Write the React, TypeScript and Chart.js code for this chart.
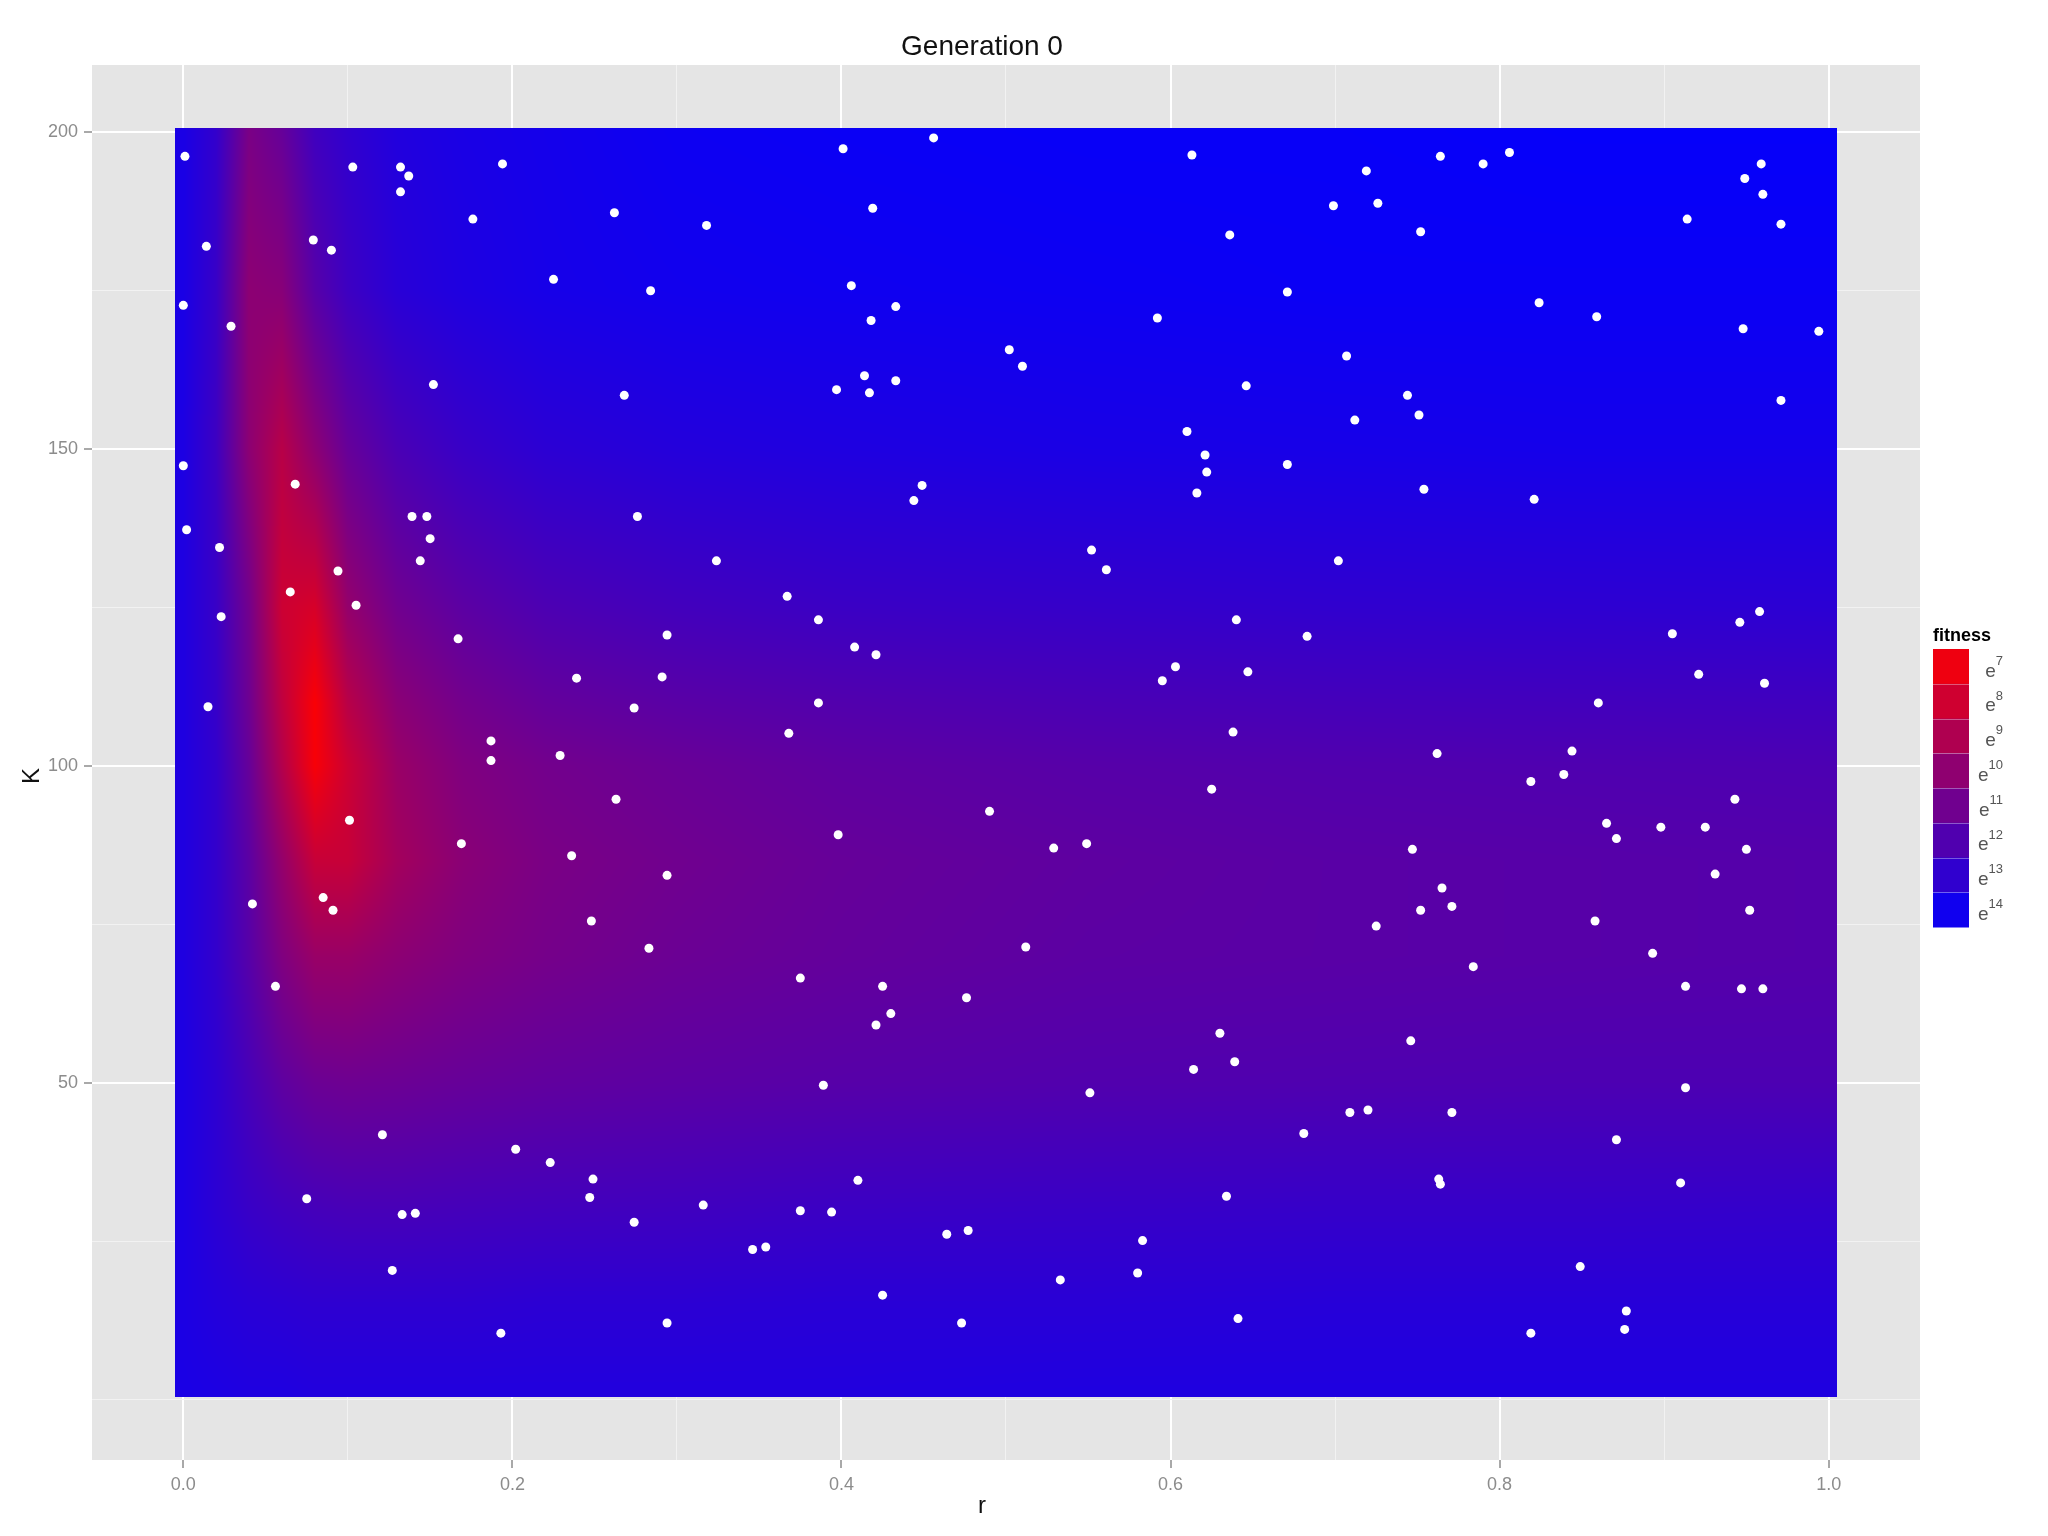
import React, { useEffect, useRef } from "react";
import { Chart, registerables } from "chart.js";

Chart.register(...registerables);

// ---------------- text ----------------
const chartTitle = "Generation 0";
const xTitle = "r";
const yTitle = "K";
const legendTitle = "fitness";
const legendBase = "e";

// ---------------- axes ----------------
const xLimits = [-0.0555, 1.0555];
const yLimits = [-9.5, 210.5];
const xMajorTicks = [0, 0.2, 0.4, 0.6, 0.8, 1.0];
const xMinorTicks = [0.1, 0.3, 0.5, 0.7, 0.9];
const yMajorTicks = [50, 100, 150, 200];
const yMinorTicks = [0, 25, 75, 125, 175];

// ---------------- fitness field (log fitness) ----------------
const rasterR = [-0.005, 1.005];
const rasterK = [0.5, 200.5];
const gridR = [0, 0.02, 0.04, 0.06, 0.08, 0.1, 0.13, 0.17, 0.22, 0.3, 0.4, 0.55, 0.7, 0.85, 1.0];
const gridK = [1, 15, 30, 50, 70, 85, 100, 110, 125, 150, 175, 200];
const logFitK1 = [13.70, 13.62, 13.54, 13.54, 13.46, 13.46, 13.46, 13.46, 13.46, 13.46, 13.46, 13.54, 13.54, 13.54, 13.54];
const logFitK15 = [13.62, 13.38, 13.22, 13.14, 13.06, 13.06, 13.06, 13.06, 13.14, 13.14, 13.22, 13.22, 13.30, 13.30, 13.30];
const logFitK30 = [13.62, 13.14, 12.74, 12.50, 12.34, 12.26, 12.26, 12.34, 12.42, 12.50, 12.66, 12.74, 12.82, 12.82, 12.90];
const logFitK50 = [13.62, 13.06, 12.26, 11.54, 11.14, 11.06, 11.14, 11.30, 11.46, 11.62, 11.78, 11.94, 12.02, 12.10, 12.10];
const logFitK70 = [13.54, 12.90, 11.78, 10.50, 9.70, 9.70, 10.10, 10.50, 10.82, 11.14, 11.38, 11.62, 11.70, 11.78, 11.86];
const logFitK85 = [13.54, 12.90, 11.62, 9.86, 8.26, 8.26, 9.38, 10.18, 10.66, 10.98, 11.30, 11.54, 11.70, 11.78, 11.86];
const logFitK100 = [13.54, 12.90, 11.30, 8.90, 6.74, 8.10, 9.70, 10.50, 10.90, 11.22, 11.54, 11.78, 11.94, 12.02, 12.10];
const logFitK110 = [13.54, 12.82, 11.06, 8.50, 6.66, 8.74, 10.18, 10.90, 11.38, 11.70, 11.94, 12.18, 12.34, 12.42, 12.50];
const logFitK125 = [13.54, 12.74, 10.90, 8.10, 7.78, 9.86, 10.98, 11.62, 12.10, 12.42, 12.66, 12.82, 12.98, 13.06, 13.14];
const logFitK150 = [13.62, 12.58, 10.10, 8.74, 10.10, 11.30, 12.18, 12.74, 13.14, 13.38, 13.54, 13.70, 13.78, 13.86, 13.86];
const logFitK175 = [13.70, 12.74, 10.10, 10.26, 11.78, 12.58, 13.22, 13.54, 13.78, 13.94, 14.02, 14.10, 14.18, 14.18, 14.18];
const logFitK200 = [13.70, 12.90, 10.66, 11.30, 12.50, 12.98, 13.46, 13.70, 13.86, 14.10, 14.18, 14.26, 14.26, 14.34, 14.34];
const gridLogFitness = [
  logFitK1, logFitK15, logFitK30, logFitK50, logFitK70, logFitK85,
  logFitK100, logFitK110, logFitK125, logFitK150, logFitK175, logFitK200,
];

// ---------------- colour scale ----------------
const legendBreaks = [7, 8, 9, 10, 11, 12, 13, 14];
const fitnessLogLow = 6.5;
const fitnessLogHigh = 14.5;
const lowColor = [255, 0, 0];
const highColor = [0, 0, 255];

// ---------------- population (points) ----------------
const pointR = [
  0.001, 0.132, 0.132, 0.137, 0.103, 0.194, 0.014, 0.079, 0.090, 0.176,
  0.262, 0.318, 0.401, 0.456, 0.419, 0.613, 0.636, 0.699, 0.719, 0.726,
  0.764, 0.790, 0.806, 0.752, 0.914, 0.949, 0.959, 0.960, 0.971, 0.000,
  0.029, 0.225, 0.284, 0.406, 0.418, 0.433, 0.414, 0.397, 0.417, 0.433,
  0.268, 0.152, 0.502, 0.510, 0.592, 0.671, 0.707, 0.646, 0.712, 0.744,
  0.751, 0.824, 0.859, 0.948, 0.994, 0.971, 0.000, 0.002, 0.022, 0.068,
  0.139, 0.148, 0.150, 0.144, 0.094, 0.276, 0.324, 0.444, 0.449, 0.610,
  0.621, 0.622, 0.616, 0.671, 0.754, 0.821, 0.552, 0.561, 0.702, 0.065,
  0.105, 0.023, 0.167, 0.239, 0.015, 0.274, 0.291, 0.294, 0.367, 0.386,
  0.408, 0.421, 0.386, 0.368, 0.187, 0.187, 0.229, 0.640, 0.647, 0.595,
  0.603, 0.683, 0.638, 0.921, 0.905, 0.946, 0.958, 0.961, 0.860, 0.762,
  0.844, 0.819, 0.839, 0.101, 0.169, 0.263, 0.236, 0.294, 0.398, 0.625,
  0.490, 0.529, 0.549, 0.042, 0.085, 0.091, 0.248, 0.283, 0.512, 0.725,
  0.747, 0.765, 0.771, 0.752, 0.865, 0.871, 0.898, 0.925, 0.931, 0.943,
  0.950, 0.952, 0.858, 0.893, 0.056, 0.375, 0.425, 0.430, 0.421, 0.476,
  0.784, 0.913, 0.947, 0.960, 0.630, 0.639, 0.614, 0.746, 0.389, 0.551,
  0.913, 0.771, 0.709, 0.720, 0.681, 0.121, 0.202, 0.223, 0.075, 0.249,
  0.247, 0.133, 0.141, 0.274, 0.316, 0.375, 0.394, 0.410, 0.763, 0.764,
  0.871, 0.910, 0.634, 0.583, 0.464, 0.477, 0.346, 0.354, 0.127, 0.580,
  0.533, 0.425, 0.849, 0.877, 0.876, 0.193, 0.294, 0.473, 0.641, 0.819,
];
const pointK = [
  196.1, 194.4, 190.5, 193.0, 194.4, 194.9, 181.9, 182.9, 181.3, 186.2,
  187.2, 185.2, 197.3, 199.0, 187.9, 196.3, 183.7, 188.3, 193.8, 188.7,
  196.1, 194.9, 196.7, 184.2, 186.2, 192.6, 194.9, 190.1, 185.4, 172.6,
  169.3, 176.7, 174.9, 175.7, 170.2, 172.4, 161.5, 159.3, 158.8, 160.7,
  158.4, 160.1, 165.6, 163.0, 170.6, 174.7, 164.6, 159.9, 154.5, 158.4,
  155.3, 173.0, 170.8, 168.9, 168.5, 157.6, 147.3, 137.2, 134.4, 144.4,
  139.3, 139.3, 135.8, 132.3, 130.7, 139.3, 132.3, 141.8, 144.2, 152.7,
  149.0, 146.3, 143.0, 147.5, 143.6, 142.0, 134.0, 130.9, 132.3, 127.4,
  125.3, 123.5, 120.0, 113.8, 109.3, 109.1, 114.0, 120.6, 126.7, 123.0,
  118.7, 117.5, 109.9, 105.1, 103.9, 100.8, 101.6, 123.0, 114.8, 113.4,
  115.6, 120.4, 105.3, 114.4, 120.8, 122.6, 124.3, 113.0, 109.9, 101.9,
  102.3, 97.5, 98.6, 91.4, 87.7, 94.7, 85.8, 82.7, 89.1, 96.3,
  92.8, 87.0, 87.7, 78.2, 79.2, 77.2, 75.5, 71.2, 71.4, 74.7,
  86.8, 80.7, 77.8, 77.2, 90.9, 88.5, 90.3, 90.3, 82.9, 94.7,
  86.8, 77.2, 75.5, 70.4, 65.2, 66.5, 65.2, 60.9, 59.1, 63.4,
  68.3, 65.2, 64.8, 64.8, 57.8, 53.3, 52.1, 56.6, 49.6, 48.4,
  49.2, 45.3, 45.3, 45.7, 42.0, 41.8, 39.5, 37.4, 31.7, 34.8,
  31.9, 29.2, 29.4, 28.0, 30.7, 29.8, 29.6, 34.6, 34.8, 34.0,
  41.0, 34.2, 32.1, 25.1, 26.1, 26.7, 23.7, 24.1, 20.4, 20.0,
  18.9, 16.5, 21.0, 14.0, 11.1, 10.5, 12.1, 12.1, 12.8, 10.5,
];

// ---------------- helpers ----------------
const FONT = '"Liberation Sans", Arial, Helvetica, sans-serif';

function isIn(list: number[], v: number) {
  return list.some((m) => Math.abs(m - v) < 1e-6);
}

function colorRGB(logFit: number): number[] {
  let t = (logFit - fitnessLogLow) / (fitnessLogHigh - fitnessLogLow);
  t = Math.max(0, Math.min(1, t));
  return [0, 1, 2].map((c) => Math.round(lowColor[c] + (highColor[c] - lowColor[c]) * t));
}

function locate(arr: number[], v: number): [number, number] {
  const n = arr.length;
  if (v <= arr[0]) return [0, 0];
  if (v >= arr[n - 1]) return [n - 2, 1];
  let i = 0;
  while (i < n - 2 && v > arr[i + 1]) i++;
  return [i, (v - arr[i]) / (arr[i + 1] - arr[i])];
}

const backgroundPlugin = {
  id: "panelBackground",
  beforeDraw(chart: any) {
    const { ctx, chartArea } = chart;
    ctx.save();
    ctx.fillStyle = "#ffffff";
    ctx.fillRect(0, 0, chart.width, chart.height);
    ctx.fillStyle = "#E5E5E5";
    ctx.fillRect(chartArea.left, chartArea.top, chartArea.right - chartArea.left, chartArea.bottom - chartArea.top);
    ctx.restore();
  },
};

const rasterPlugin = {
  id: "fitnessRaster",
  beforeDatasetsDraw(chart: any) {
    const xs = chart.scales.x;
    const ys = chart.scales.y;
    const x0 = Math.round(xs.getPixelForValue(rasterR[0]));
    const x1 = Math.round(xs.getPixelForValue(rasterR[1]));
    const y0 = Math.round(ys.getPixelForValue(rasterK[1]));
    const y1 = Math.round(ys.getPixelForValue(rasterK[0]));
    const w = x1 - x0;
    const h = y1 - y0;
    const img = chart.ctx.createImageData(w, h);
    const colI = new Int32Array(w);
    const colF = new Float64Array(w);
    for (let i = 0; i < w; i++) {
      const [a, f] = locate(gridR, xs.getValueForPixel(x0 + i + 0.5));
      colI[i] = a;
      colF[i] = f;
    }
    for (let j = 0; j < h; j++) {
      const [b, g] = locate(gridK, ys.getValueForPixel(y0 + j + 0.5));
      const rowA = gridLogFitness[b];
      const rowB = gridLogFitness[b + 1];
      for (let i = 0; i < w; i++) {
        const a = colI[i];
        const f = colF[i];
        const za = rowA[a] * (1 - f) + rowA[a + 1] * f;
        const zb = rowB[a] * (1 - f) + rowB[a + 1] * f;
        const z = za * (1 - g) + zb * g;
        const c = colorRGB(z);
        const p = (j * w + i) * 4;
        img.data[p] = c[0];
        img.data[p + 1] = c[1];
        img.data[p + 2] = c[2];
        img.data[p + 3] = 255;
      }
    }
    chart.ctx.putImageData(img, x0, y0);
  },
};

const textPlugin = {
  id: "textsAndLegend",
  afterDraw(chart: any) {
    const ctx = chart.ctx;
    ctx.save();
    // title
    ctx.fillStyle = "#111111";
    ctx.font = `28px ${FONT}`;
    ctx.textAlign = "center";
    ctx.textBaseline = "middle";
    ctx.fillText(chartTitle, 982, 47);
    // axis titles
    ctx.font = `24px ${FONT}`;
    ctx.fillText(xTitle, 982, 1506);
    ctx.save();
    ctx.translate(32, 776);
    ctx.rotate(-Math.PI / 2);
    ctx.fillText(yTitle, 0, 0);
    ctx.restore();

    // legend
    const barX = 1933;
    const barW = 36;
    const barTop = 649;
    const barBottom = 927;
    const blockH = (barBottom - barTop) / legendBreaks.length;
    ctx.font = `bold 18px ${FONT}`;
    ctx.textAlign = "left";
    ctx.fillStyle = "#000000";
    ctx.fillText(legendTitle, 1933, 636);
    legendBreaks.forEach((b, i) => {
      const c = colorRGB(b);
      ctx.fillStyle = `rgb(${c[0]},${c[1]},${c[2]})`;
      ctx.fillRect(barX, barTop + i * blockH, barW, blockH + 0.5);
    });
    ctx.strokeStyle = "rgba(255,255,255,0.35)";
    ctx.lineWidth = 1;
    for (let i = 1; i < legendBreaks.length; i++) {
      const y = Math.round(barTop + i * blockH) + 0.5;
      ctx.beginPath();
      ctx.moveTo(barX, y);
      ctx.lineTo(barX + barW, y);
      ctx.stroke();
    }
    const rightEdge = 2003;
    legendBreaks.forEach((b, i) => {
      const cy = barTop + (i + 0.5) * blockH;
      const sup = String(b);
      ctx.fillStyle = "#555555";
      ctx.font = `13px ${FONT}`;
      const supW = ctx.measureText(sup).width;
      ctx.textAlign = "left";
      ctx.textBaseline = "middle";
      ctx.fillText(sup, rightEdge - supW, cy - 5);
      ctx.font = `19px ${FONT}`;
      const eW = ctx.measureText(legendBase).width;
      ctx.fillText(legendBase, rightEdge - supW - eW, cy + 5);
    });
    ctx.restore();
  },
};

export default function App() {
  const ref = useRef<HTMLCanvasElement>(null);

  useEffect(() => {
    const canvas = ref.current;
    if (!canvas) return;
    const points = pointR.map((r, i) => ({ x: r, y: pointK[i] }));
    const xTicks = [...xMajorTicks, ...xMinorTicks].sort((a, b) => a - b);
    const yTicks = [...yMajorTicks, ...yMinorTicks].sort((a, b) => a - b);

    const chart = new Chart(canvas, {
      type: "scatter",
      data: {
        datasets: [
          {
            label: "population",
            data: points,
            backgroundColor: "#ffffff",
            borderWidth: 0,
            pointRadius: 4.5,
            pointHoverRadius: 4.5,
            pointStyle: "circle",
          },
        ],
      },
      options: {
        responsive: false,
        animation: false,
        devicePixelRatio: 1,
        events: [],
        layout: { padding: { top: 65, right: 128, left: 0, bottom: 0 } },
        plugins: {
          legend: { display: false },
          tooltip: { enabled: false },
          title: { display: false },
        },
        scales: {
          x: {
            type: "linear",
            min: xLimits[0],
            max: xLimits[1],
            afterBuildTicks: (scale: any) => {
              scale.ticks = xTicks.map((v) => ({ value: v }));
            },
            afterFit: (scale: any) => {
              scale.height = 76;
            },
            border: { display: false },
            grid: {
              color: (ctx: any) => (ctx.tick && isIn(xMajorTicks, ctx.tick.value) ? "#FFFFFF" : "#F2F2F2"),
              lineWidth: (ctx: any) => (ctx.tick && isIn(xMajorTicks, ctx.tick.value) ? 2 : 1),
              tickColor: (ctx: any) => (ctx.tick && isIn(xMajorTicks, ctx.tick.value) ? "#8C8C8C" : "rgba(0,0,0,0)"),
              tickWidth: 1.5,
              tickLength: 8,
              drawTicks: true,
            },
            ticks: {
              autoSkip: false,
              maxRotation: 0,
              padding: 6,
              color: "#8C8C8C",
              font: { family: FONT, size: 18 },
              callback: (v: any) => (isIn(xMajorTicks, Number(v)) ? Number(v).toFixed(1) : ""),
            },
          },
          y: {
            type: "linear",
            min: yLimits[0],
            max: yLimits[1],
            afterBuildTicks: (scale: any) => {
              scale.ticks = yTicks.map((v) => ({ value: v }));
            },
            afterFit: (scale: any) => {
              scale.width = 92;
            },
            border: { display: false },
            grid: {
              color: (ctx: any) => (ctx.tick && isIn(yMajorTicks, ctx.tick.value) ? "#FFFFFF" : "#F2F2F2"),
              lineWidth: (ctx: any) => (ctx.tick && isIn(yMajorTicks, ctx.tick.value) ? 2 : 1),
              tickColor: (ctx: any) => (ctx.tick && isIn(yMajorTicks, ctx.tick.value) ? "#8C8C8C" : "rgba(0,0,0,0)"),
              tickWidth: 1.5,
              tickLength: 8,
              drawTicks: true,
            },
            ticks: {
              autoSkip: false,
              padding: 6,
              color: "#8C8C8C",
              font: { family: FONT, size: 18 },
              callback: (v: any) => (isIn(yMajorTicks, Number(v)) ? String(Number(v)) : ""),
            },
          },
        },
      },
      plugins: [backgroundPlugin, rasterPlugin, textPlugin],
    });
    return () => chart.destroy();
  }, []);

  return (
    <div style={{ position: "fixed", left: 0, top: 0, width: 2048, height: 1536, background: "#ffffff" }}>
      <canvas ref={ref} width={2048} height={1536} style={{ display: "block", width: 2048, height: 1536 }} />
    </div>
  );
}
